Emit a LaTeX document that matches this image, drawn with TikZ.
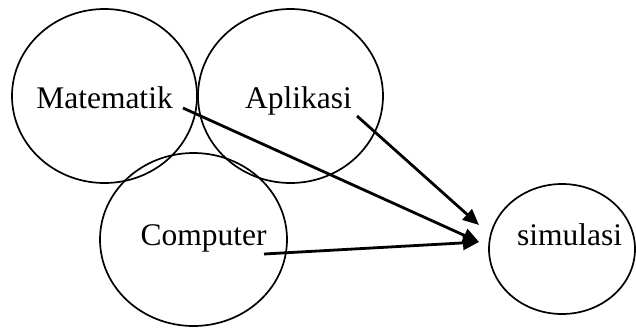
\documentclass[tikz,border=0pt]{standalone}
\usepackage{fontspec}
\setmainfont{Liberation Serif}
\usetikzlibrary{shapes.geometric,arrows.meta}
\begin{document}
\begin{tikzpicture}[x=1pt,y=-1pt,
  blob/.style={draw,ellipse,line width=1.7pt,inner sep=0pt},
  lbl/.style={anchor=base,inner sep=0pt,font=\fontsize{31.5}{36}\selectfont},
  conn/.style={line width=2.8pt,-{Triangle[length=16pt,width=14pt]}}]
\useasboundingbox (0,0) rectangle (636,327);
\node[blob,minimum width=185pt,minimum height=174pt] (cm) at (104.5,96) {};
\node[blob,minimum width=185pt,minimum height=174pt] (ca) at (290.5,96) {};
\node[blob,minimum width=187pt,minimum height=173pt] (cc) at (193.5,239.5) {};
\node[blob,minimum width=146pt,minimum height=130pt] (cs) at (562,249) {};
\node[lbl] (tm) at (104.5,108) {Matematik};
\node[lbl] (ta) at (298.5,108) {Aplikasi};
\node[lbl] (tc) at (203.5,245) {Computer};
\node[lbl] (ts) at (569.5,245) {simulasi};
\coordinate (sm) at (183,108);
\coordinate (sa) at (357,116);
\coordinate (sc) at (264,254);
\coordinate (e1) at (479,242);
\coordinate (e2) at (479,225);
\draw[conn] (sm) -- (e1);
\draw[conn] (sa) -- (e2);
\draw[conn] (sc) -- (e1);
\end{tikzpicture}
\end{document}
